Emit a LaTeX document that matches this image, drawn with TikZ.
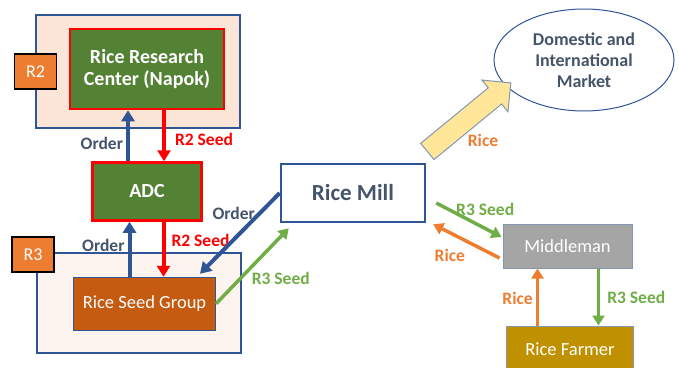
\documentclass[tikz,border=0pt]{standalone}
\usepackage{fontspec}
\setmainfont{Carlito}
\usetikzlibrary{arrows.meta, shapes.geometric, shapes.arrows, positioning, calc}

\definecolor{regionblue}{HTML}{2F5597}
\definecolor{seedred}{HTML}{FF0000}
\definecolor{centergreen}{HTML}{548235}
\definecolor{tagorange}{HTML}{ED7D31}
\definecolor{seedgreen}{HTML}{70AD47}
\definecolor{groupbrown}{HTML}{C55A11}
\definecolor{farmgold}{HTML}{BF9000}
\definecolor{midgray}{HTML}{A5A5A5}
\definecolor{slate}{HTML}{44546A}
\definecolor{peach}{HTML}{FBE5D6}
\definecolor{blush}{HTML}{FDF4EF}
\definecolor{paleyellow}{HTML}{FFE699}
\definecolor{softblue}{HTML}{8497B0}

\begin{document}
\begin{tikzpicture}[
  x=1pt, y=-1pt,
  every node/.style={font=\fontsize{18.5}{22}\selectfont, align=center},
  region/.style={rectangle, draw=regionblue, line width=1.5pt, minimum width=204pt},
  tag/.style={rectangle, draw=black, line width=1.8pt, fill=tagorange, text=white,
              minimum width=42pt, minimum height=35pt, font=\fontsize{18}{22}\selectfont},
  greenbox/.style={rectangle, draw=seedred, line width=2.5pt, fill=centergreen, text=white},
  plainbox/.style={rectangle, draw=softblue, line width=1pt, text=white},
  lbl/.style={font=\fontsize{17.5}{21}\selectfont\bfseries, inner sep=3pt},
  order/.style={draw=regionblue, line width=4pt, -{Triangle[length=11pt, width=13pt]}},
  redseed/.style={draw=seedred, line width=4pt, -{Triangle[length=11pt, width=13pt]}},
  greenseed/.style={draw=seedgreen, line width=3.5pt, -{Triangle[length=10pt, width=12pt]}},
  rice/.style={draw=tagorange, line width=3.5pt, -{Triangle[length=10pt, width=12pt]}},
]
\useasboundingbox (0,0) rectangle (679,367);

% regions
\node[region, fill=peach, minimum height=113pt] (r2box) at (138,71.5) {};
\node[tag] (r2) at (35.5,71.5) {R2};
\node[region, fill=blush, minimum height=100pt] (r3box) at (139,303) {};
\node[tag] (r3) at (33,254.5) {R3};

% actors
\node[greenbox, minimum width=154pt, minimum height=80pt,
      font=\fontsize{20}{22}\selectfont\bfseries] (rrc) at (147,69) {Rice Research\\Center (Napok)};
\node[greenbox, minimum width=109pt, minimum height=58pt, below=51pt of rrc,
      font=\fontsize{20}{24}\selectfont\bfseries] (adc) {ADC};
\node[plainbox, draw=regionblue, fill=groupbrown, minimum width=142pt, minimum height=53pt,
      below=55pt of adc, xshift=-2.5pt] (rsg) {Rice Seed Group};
\node[rectangle, draw=regionblue, line width=2.5pt, fill=white, text=slate,
      minimum width=144pt, minimum height=58pt,
      font=\fontsize{23}{27}\selectfont\bfseries] (mill) at (353,193) {Rice Mill};
\node[ellipse, draw=regionblue, line width=1pt, fill=white, text=slate,
      minimum width=180pt, minimum height=102pt, inner sep=0pt,
      font=\fontsize{18}{21}\selectfont\bfseries] (market) at (584,60) {Domestic and\\International\\Market};
\node[plainbox, fill=midgray, minimum width=129pt, minimum height=44pt] (middle) at (567.5,246) {Middleman};
\node[plainbox, fill=farmgold, minimum width=127pt, minimum height=46pt,
      below=57pt of middle, xshift=2.5pt] (farmer) {Rice Farmer};

% rice to market
\node[single arrow, draw=softblue, line width=1pt, fill=paleyellow, minimum height=108pt,
      inner sep=10pt, single arrow head extend=10pt, rotate=39.4] (bigarrow) at (465,120.5) {};
\node[lbl, text=tagorange] (ricelbl) at ([xshift=18pt,yshift=-19.5pt]bigarrow.center) {Rice};

% flows
\draw[order] ([xshift=-19pt]adc.north) -- node[lbl, left, pos=0.35, text=slate] {Order}
  ([xshift=-19pt]adc.north |- rrc.south);
\draw[redseed] ([xshift=17pt]adc.north |- rrc.south) -- node[lbl, right=6pt, pos=0.57, text=seedred] {R2 Seed}
  ([xshift=17pt]adc.north);
\draw[order] ([xshift=-17.5pt]adc.south |- rsg.north) -- node[lbl, left, pos=0.57, text=slate] {Order}
  ([xshift=-17.5pt]adc.south);
\draw[redseed] ([xshift=16.5pt]adc.south) -- node[lbl, right=3pt, pos=0.34, text=seedred] {R2 Seed}
  ([xshift=16.5pt]adc.south |- rsg.north);
\draw[order] (mill.west) -- node[lbl, left, pos=0.25, text=slate] {Order}
  ([xshift=-16pt,yshift=3pt]rsg.north east);
\draw[greenseed] (rsg.east) -- node[lbl, anchor=west, pos=0.33, xshift=7pt, text=seedgreen] {R3 Seed}
  ([xshift=9pt,yshift=-5pt]mill.south west);
\draw[greenseed] ([xshift=10pt,yshift=-10pt]mill.east) -- node[lbl, pos=0.75, above=8pt, text=seedgreen] {R3 Seed}
  ([xshift=-1pt,yshift=9pt]middle.west);
\draw[rice] ([xshift=-3pt,yshift=-12pt]middle.west) -- node[lbl, pos=0.75, below=12pt, text=tagorange] {Rice}
  ([xshift=7pt,yshift=-1pt]mill.south east);
\draw[rice] ([xshift=-30pt]middle.south |- farmer.north) -- node[lbl, left, pos=0.48, text=tagorange] {Rice}
  ([xshift=-30pt]middle.south);
\draw[greenseed] ([xshift=31pt]middle.south) -- node[lbl, right=4pt, pos=0.5, text=seedgreen] {R3 Seed}
  ([xshift=31pt]middle.south |- farmer.north);
\end{tikzpicture}
\end{document}
